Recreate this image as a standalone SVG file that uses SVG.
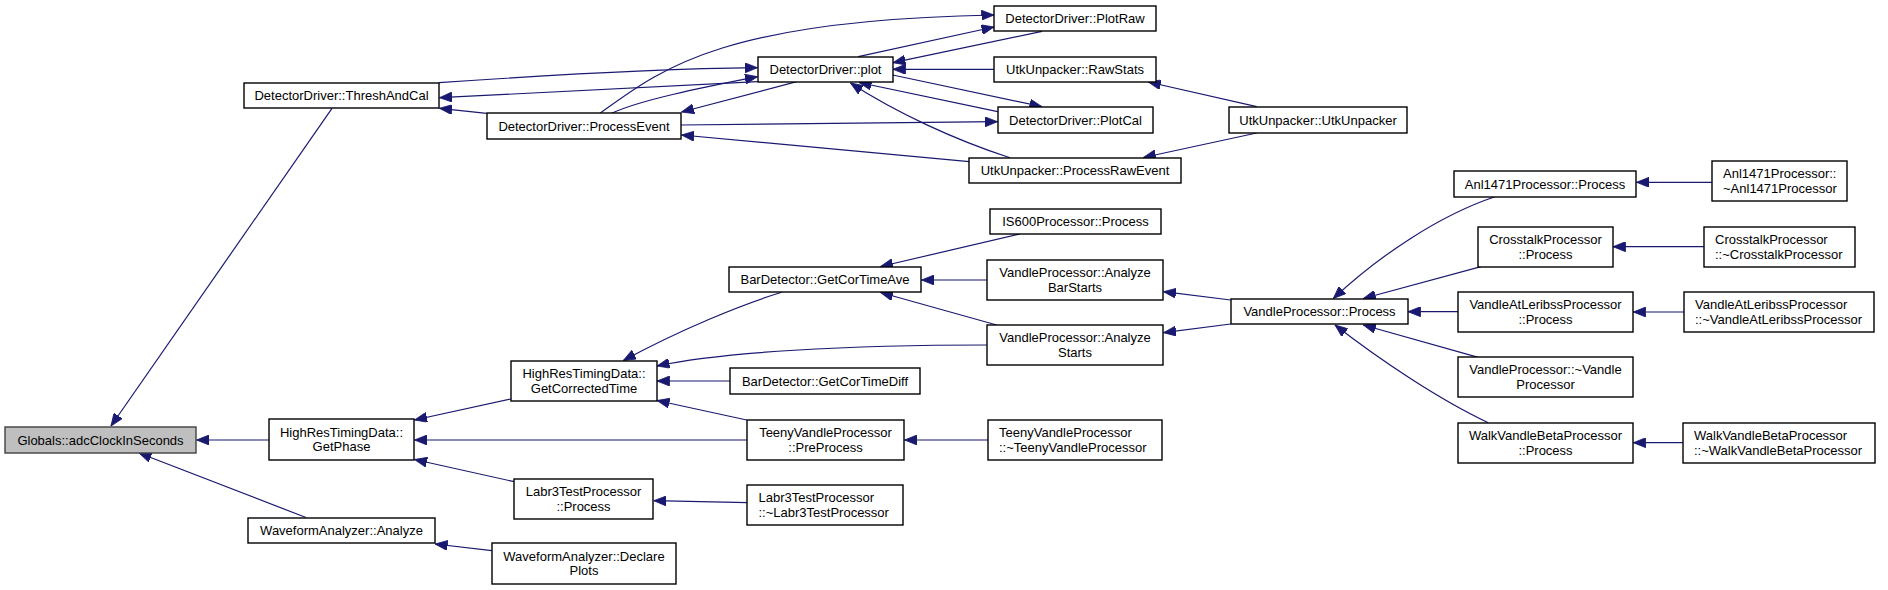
<svg xmlns="http://www.w3.org/2000/svg" width="1888" height="590" viewBox="0 0 1888 590">
<style>
.n rect{fill:#ffffff;stroke:#000000;stroke-width:1.4}
.n.root rect{fill:#bfbfbf;stroke:#404040}
.n text{font-family:"Liberation Sans",Arial,sans-serif;font-size:13px;fill:#000000}
.c{text-anchor:middle}
#edges path{fill:none;stroke:#191970;stroke-width:1.2;marker-end:url(#ah)}
</style>
<defs>
<marker id="ah" markerUnits="userSpaceOnUse" markerWidth="13" markerHeight="10" refX="12.5" refY="5" orient="auto" viewBox="0 0 13 10">
<path d="M0,0 L12.5,5 L0,10 z" fill="#191970" stroke="#191970" stroke-width="0.8"/>
</marker>
</defs>
<rect x="0" y="0" width="1888" height="590" fill="#ffffff"/>
<g id="edges">
<path d="M332,108.3 L111,426"/>
<path d="M269,440 L196.5,440"/>
<path d="M306,517.5 L139,453"/>
<path d="M486.7,113.3 L439.5,108.3"/>
<path d="M757.7,81.7 L439.5,97.7"/>
<path d="M439,82.7 C520,77 650,69 757.5,67.7"/>
<path d="M611.7,113.3 C640,100 700,88 757.5,76.7"/>
<path d="M600,113.3 C660,70 720,20 994,15"/>
<path d="M858.3,56.7 L994,27"/>
<path d="M1042,31.3 L893,62.7"/>
<path d="M994,69.3 L893,69.3"/>
<path d="M892.7,75 L1042,106.7"/>
<path d="M997.7,111.7 L859,82.5"/>
<path d="M1010,157.7 C955,140 895,112 850.5,83"/>
<path d="M681,125 L997.5,121.7"/>
<path d="M969.3,161.7 L681.5,135"/>
<path d="M796.7,81.7 L681.5,112"/>
<path d="M1256.7,106.7 L1148.3,82"/>
<path d="M1256.7,133 L1143.3,157.5"/>
<path d="M511,399 L414.5,420"/>
<path d="M746.7,440 L414.5,440"/>
<path d="M514.3,481.7 L414.5,459.5"/>
<path d="M491.8,550.7 L435,544"/>
<path d="M1020,234 L880.5,266.5"/>
<path d="M986.7,280 L921.5,280"/>
<path d="M996.7,325 L880.5,292.5"/>
<path d="M781.7,292.3 C740,305 680,330 623.3,360.5"/>
<path d="M986.7,345 C850,345 720,352 657,366"/>
<path d="M730.3,381 L657,381"/>
<path d="M746.7,420 L657,400.5"/>
<path d="M988.3,440 L904.5,440"/>
<path d="M747.3,502.7 L653.8,500.7"/>
<path d="M1230.7,300 L1163.5,291.7"/>
<path d="M1230.7,324 L1163.5,332.7"/>
<path d="M1495,196.7 C1440,215 1380,255 1333.3,298.5"/>
<path d="M1481,266.7 L1363.3,298.5"/>
<path d="M1458,311.7 L1408,311.7"/>
<path d="M1478.3,357.3 L1363.3,325"/>
<path d="M1488.3,422.7 C1440,400 1380,360 1335,325"/>
<path d="M1711.8,182.3 L1636.5,182.3"/>
<path d="M1704,246.7 L1613,246.7"/>
<path d="M1684,312 L1633.3,312"/>
<path d="M1683.3,442.7 L1633.3,442.7"/>
</g>
<g id="n_globals" class="n root"><rect x="5" y="427" width="191" height="26"/><text class="c" x="100.5" y="444.5">Globals::adcClockInSeconds</text></g>
<g id="n_threshandcal" class="n"><rect x="244" y="83" width="195" height="25"/><text class="c" x="341.5" y="99.5">DetectorDriver::ThreshAndCal</text></g>
<g id="n_processevent" class="n"><rect x="487" y="113" width="194" height="26"/><text class="c" x="584" y="130.5">DetectorDriver::ProcessEvent</text></g>
<g id="n_plot" class="n"><rect x="758" y="57" width="135" height="25"/><text class="c" x="825.5" y="73.5">DetectorDriver::plot</text></g>
<g id="n_plotraw" class="n"><rect x="994" y="6" width="162" height="25"/><text class="c" x="1075" y="22.5">DetectorDriver::PlotRaw</text></g>
<g id="n_rawstats" class="n"><rect x="994" y="57" width="162" height="25"/><text class="c" x="1075" y="73.5">UtkUnpacker::RawStats</text></g>
<g id="n_plotcal" class="n"><rect x="998" y="107" width="155" height="26"/><text class="c" x="1075.5" y="124.5">DetectorDriver::PlotCal</text></g>
<g id="n_processrawevent" class="n"><rect x="969" y="158" width="212" height="25"/><text class="c" x="1075" y="174.5">UtkUnpacker::ProcessRawEvent</text></g>
<g id="n_utkunpacker" class="n"><rect x="1229" y="107" width="178" height="26"/><text class="c" x="1318" y="124.5">UtkUnpacker::UtkUnpacker</text></g>
<g id="n_is600" class="n"><rect x="990" y="209" width="171" height="25"/><text class="c" x="1075.5" y="225.5">IS600Processor::Process</text></g>
<g id="n_getcortimeave" class="n"><rect x="729" y="267" width="192" height="25"/><text class="c" x="825" y="283.5">BarDetector::GetCorTimeAve</text></g>
<g id="n_analyzebarstarts" class="n"><rect x="987" y="260" width="176" height="40"/><text class="c" x="1075" y="277">VandleProcessor::Analyze</text><text class="c" x="1075" y="291.8">BarStarts</text></g>
<g id="n_analyzestarts" class="n"><rect x="987" y="325" width="176" height="40"/><text class="c" x="1075" y="342">VandleProcessor::Analyze</text><text class="c" x="1075" y="356.8">Starts</text></g>
<g id="n_vpprocess" class="n"><rect x="1231" y="299" width="177" height="25"/><text class="c" x="1319.5" y="315.5">VandleProcessor::Process</text></g>
<g id="n_getcorrectedtime" class="n"><rect x="511" y="361" width="146" height="40"/><text class="c" x="584" y="378">HighResTimingData::</text><text class="c" x="584" y="392.8">GetCorrectedTime</text></g>
<g id="n_getcortimediff" class="n"><rect x="730" y="368" width="190" height="26"/><text class="c" x="825" y="385.5">BarDetector::GetCorTimeDiff</text></g>
<g id="n_getphase" class="n"><rect x="269" y="419" width="145" height="41"/><text class="c" x="341.5" y="436.5">HighResTimingData::</text><text class="c" x="341.5" y="451.3">GetPhase</text></g>
<g id="n_preprocess" class="n"><rect x="747" y="420" width="157" height="40"/><text class="c" x="825.5" y="437">TeenyVandleProcessor</text><text class="c" x="825.5" y="451.8">::PreProcess</text></g>
<g id="n_teenydtor" class="n"><rect x="988" y="420" width="174" height="40"/><text x="999" y="437">TeenyVandleProcessor</text><text x="999" y="451.8">::~TeenyVandleProcessor</text></g>
<g id="n_labr3process" class="n"><rect x="514" y="479" width="139" height="40"/><text class="c" x="583.5" y="496">Labr3TestProcessor</text><text class="c" x="583.5" y="510.8">::Process</text></g>
<g id="n_labr3dtor" class="n"><rect x="747" y="485" width="156" height="40"/><text x="758.5" y="502">Labr3TestProcessor</text><text x="758.5" y="516.8">::~Labr3TestProcessor</text></g>
<g id="n_analyze" class="n"><rect x="248" y="518" width="187" height="25"/><text class="c" x="341.5" y="534.5">WaveformAnalyzer::Analyze</text></g>
<g id="n_declareplots" class="n"><rect x="492" y="543" width="184" height="41"/><text class="c" x="584" y="560.5">WaveformAnalyzer::Declare</text><text class="c" x="584" y="575.3">Plots</text></g>
<g id="n_anl1471process" class="n"><rect x="1454" y="171" width="182" height="26"/><text class="c" x="1545" y="188.5">Anl1471Processor::Process</text></g>
<g id="n_anl1471dtor" class="n"><rect x="1712" y="161" width="135" height="40"/><text x="1723" y="178">Anl1471Processor::</text><text x="1723" y="192.8">~Anl1471Processor</text></g>
<g id="n_crosstalkprocess" class="n"><rect x="1478" y="227" width="135" height="40"/><text class="c" x="1545.5" y="244">CrosstalkProcessor</text><text class="c" x="1545.5" y="258.8">::Process</text></g>
<g id="n_crosstalkdtor" class="n"><rect x="1704" y="227" width="151" height="40"/><text x="1715" y="244">CrosstalkProcessor</text><text x="1715" y="258.8">::~CrosstalkProcessor</text></g>
<g id="n_valprocess" class="n"><rect x="1458" y="292" width="175" height="40"/><text class="c" x="1545.5" y="309">VandleAtLeribssProcessor</text><text class="c" x="1545.5" y="323.8">::Process</text></g>
<g id="n_valdtor" class="n"><rect x="1684" y="292" width="190" height="40"/><text x="1695" y="309">VandleAtLeribssProcessor</text><text x="1695" y="323.8">::~VandleAtLeribssProcessor</text></g>
<g id="n_vpdtor" class="n"><rect x="1458" y="357" width="175" height="40"/><text class="c" x="1545.5" y="374">VandleProcessor::~Vandle</text><text class="c" x="1545.5" y="388.8">Processor</text></g>
<g id="n_wvbprocess" class="n"><rect x="1458" y="423" width="175" height="40"/><text class="c" x="1545.5" y="440">WalkVandleBetaProcessor</text><text class="c" x="1545.5" y="454.8">::Process</text></g>
<g id="n_wvbdtor" class="n"><rect x="1683" y="423" width="192" height="40"/><text x="1694" y="440">WalkVandleBetaProcessor</text><text x="1694" y="454.8">::~WalkVandleBetaProcessor</text></g>
</svg>
